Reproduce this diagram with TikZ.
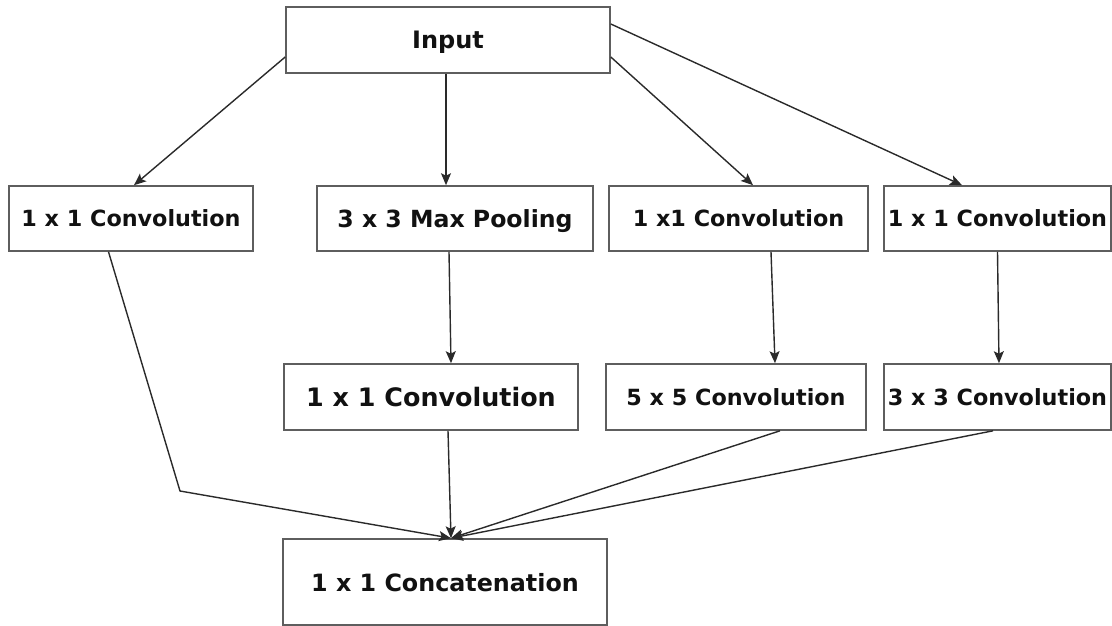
\documentclass[tikz,border=0pt]{standalone}
\usepackage{fontspec}
\setmainfont{DejaVu Sans}
\usetikzlibrary{arrows.meta}
\definecolor{boxline}{HTML}{5E5E5E}
\definecolor{wire}{HTML}{2A2A2A}
\definecolor{ink}{HTML}{111111}
\tikzset{
  block/.style={draw=boxline, line width=1.6pt, rectangle, inner sep=0pt,
    text=ink, text depth=0pt, font=\bfseries\fontsize{22.3pt}{26pt}\selectfont,
    minimum height=65pt},
  flow/.style={draw=wire, line width=1.4pt,
    -{Stealth[length=12pt,width=10pt,inset=2.5pt]}},
}
\begin{document}
\begin{tikzpicture}[x=1pt, y=-1pt]
  \useasboundingbox (0,0) rectangle (1112,626);

  % source
  \node[block, minimum width=324pt, minimum height=66pt,
        font=\bfseries\fontsize{24pt}{28pt}\selectfont] (in) at (448,40) {Input};

  % first row of branches
  \node[block, minimum width=244pt] (b1) at (131,218.5) {1 x 1 Convolution};
  \node[block, minimum width=276pt,
        font=\bfseries\fontsize{23.6pt}{28pt}\selectfont] (b2) at (455,218.5) {3 x 3 Max Pooling};
  \node[block, minimum width=259pt] (b3) at (738.5,218.5) {1 x1 Convolution};
  \node[block, minimum width=227pt] (b4) at (997.5,218.5) {1 x 1 Convolution};

  % second row of branches
  \node[block, minimum width=294pt, minimum height=66pt,
        font=\bfseries\fontsize{25.4pt}{30pt}\selectfont] (c2) at (431,397) {1 x 1 Convolution};
  \node[block, minimum width=260pt, minimum height=66pt] (c3) at (736,397) {5 x 5 Convolution};
  \node[block, minimum width=227pt, minimum height=66pt] (c4) at (997.5,397) {3 x 3 Convolution};

  % merge
  \node[block, minimum width=324pt, minimum height=86pt,
        font=\bfseries\fontsize{23.8pt}{28pt}\selectfont] (cat) at (445,582) {1 x 1 Concatenation};

  \coordinate (join) at ([xshift=6pt]cat.north);
  \coordinate (bend) at (180,491);

  % input fan-out
  \draw[flow] ([yshift=-17pt]in.west) -- ([xshift=3pt]b1.north);
  \draw[flow] ([xshift=-2pt]in.south) -- ([xshift=-9pt]b2.north);
  \draw[flow] ([yshift=-17pt]in.east) -- ([xshift=14.5pt]b3.north);
  \draw[flow] ([yshift=16pt]in.east) -- ([xshift=-35.5pt]b4.north);

  % branch chains
  \draw[flow] ([xshift=-6pt]b2.south) -- ([xshift=20pt]c2.north);
  \draw[flow] ([xshift=32.5pt]b3.south) -- ([xshift=39pt]c3.north);
  \draw[flow] (b4.south) -- ([xshift=1.5pt]c4.north);

  % fan-in to concatenation
  \draw[flow] ([xshift=-22.5pt]b1.south) -- (bend) -- (join);
  \draw[flow] ([xshift=17pt]c2.south) -- (join);
  \draw[flow] ([xshift=44pt]c3.south) -- (join);
  \draw[flow] ([xshift=-4.5pt]c4.south) -- (join);
\end{tikzpicture}
\end{document}
